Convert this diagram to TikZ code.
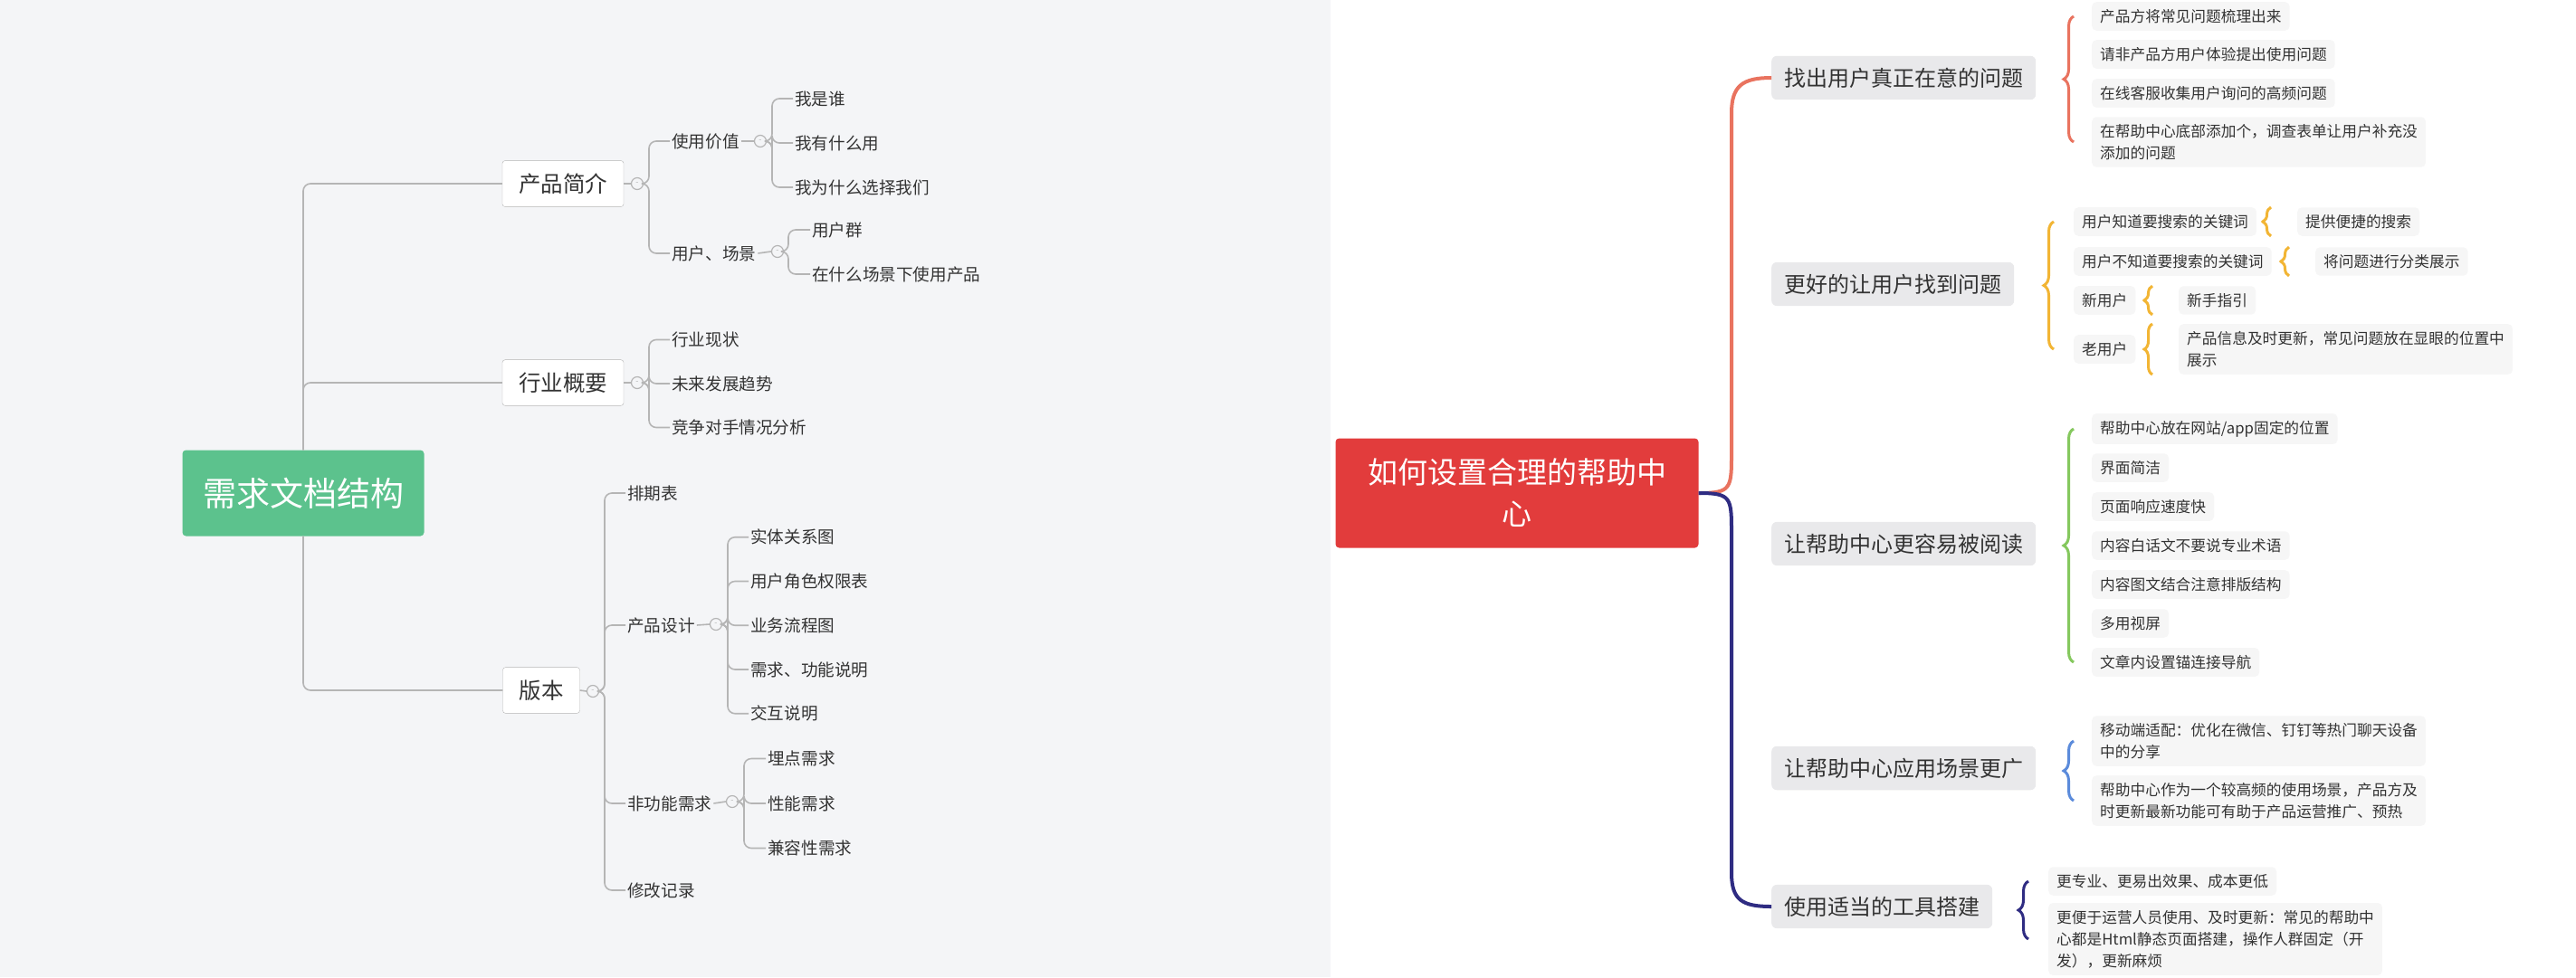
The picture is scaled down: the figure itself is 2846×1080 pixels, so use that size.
\documentclass[tikz,border=0pt]{standalone}
\usepackage{fontspec}
\setmainfont{Noto Sans CJK SC}
\usetikzlibrary{decorations.pathreplacing}
\definecolor{bgleft}{HTML}{F4F5F7}
\definecolor{txt}{HTML}{333333}
\definecolor{lgray}{HTML}{B5B5B5}
\definecolor{rootgreen}{HTML}{5CC28D}
\definecolor{rootred}{HTML}{E23C3C}
\definecolor{csalmon}{HTML}{E9735F}
\definecolor{cyellow}{HTML}{F2B534}
\definecolor{cgreen}{HTML}{85C85E}
\definecolor{cblue}{HTML}{5B8BDB}
\definecolor{cnavy}{HTML}{2F2C82}
\definecolor{brfill}{HTML}{E9E9EB}
\definecolor{lffill}{HTML}{F6F6F6}

\begin{document}
\begin{tikzpicture}[x=1pt,y=-1pt,
        lline/.style={draw=lgray, line width=1.6pt, rounded corners=8pt},
        topbox/.style={draw=lgray, fill=white, rounded corners=3pt, text=txt,
                        font=\fontsize{24.5}{29}\selectfont, inner xsep=18pt, inner ysep=14pt},
        item/.style={anchor=west, text=txt, font=\fontsize{18.6}{22}\selectfont,
                        inner sep=2pt},
        fold/.style={circle, draw=lgray, fill=bgleft, line width=1.2pt,
                        inner sep=0pt, minimum size=13pt, font=\fontsize{9}{9}\selectfont, text=lgray},
        branch/.style={anchor=west, fill=brfill, rounded corners=6pt, text=txt,
                        font=\fontsize{24}{29}\selectfont, inner xsep=14pt, inner ysep=13pt},
        leaf/.style={anchor=west, fill=lffill, rounded corners=5pt, text=txt, align=left,
                        font=\fontsize{16.7}{24}\selectfont, inner xsep=9pt, inner ysep=8pt},
        grp/.style={decorate, decoration={brace, amplitude=11pt}, line width=3pt},
        trunk/.style={line width=4pt}]
    \useasboundingbox (0,0) rectangle (2846,1080);
    \fill[white] (0,0) rectangle (2846,1080);
    \fill[bgleft] (0,0) rectangle (1470,1080);

    % left map
    \node[fill=rootgreen, rounded corners=4pt, text=white, minimum width=267pt,
          minimum height=95pt, font=\fontsize{37}{44}\selectfont] (req) at (335,545) {需求文档结构};
    \node[topbox] (intro) at (622,203) {产品简介};
    \node[topbox] (trade) at (622,423) {行业概要};
    \node[topbox] (ver) at (598,763) {版本};
    \draw[lline] (req.north) |- (intro.west);
    \draw[lline] (req.north) |- (trade.west);
    \draw[lline] (req.south) |- (ver.west);

    \node[fold] (fintro) at (704,203) {-};
    \node[fold] (ftrade) at (704,423) {-};
    \node[fold] (fver) at (655,764) {-};
    \draw[lline] (intro.east) -- (fintro.west);
    \draw[lline] (trade.east) -- (ftrade.west);
    \draw[lline] (ver.east) -- (fver.west);

    \node[item] (use) at (740,156) {使用价值};
    \node[item] (scene) at (740,280) {用户、场景};
    \foreach \n in {use,scene}
        \draw[lline] (fintro.east) -- (717,203) |- (\n.west);

    \node[fold] (fuse) at (840,156) {-};
    \node[fold] (fscene) at (859,278) {-};
    \draw[lline] (use.east) -- (fuse.west);
    \draw[lline] (scene.east) -- (fscene.west);
    \foreach \t [count=\i] in {我是谁,我有什么用,我为什么选择我们} {
        \node[item] (use\i) at (876,{60+\i*49}) {\t};
        \draw[lline] (fuse.east) -- (853,156) |- (use\i.west);
    }
    \foreach \t/\y [count=\i] in {用户群/254,在什么场景下使用产品/303} {
        \node[item] (scene\i) at (895,\y) {\t};
        \draw[lline] (fscene.east) -- (871,278) |- (scene\i.west);
    }
    \foreach \t [count=\i] in {行业现状,未来发展趋势,竞争对手情况分析} {
        \node[item] (trade\i) at (740,{327+\i*48.5}) {\t};
        \draw[lline] (ftrade.east) -- (717,423) |- (trade\i.west);
    }

    \foreach \t/\y/\n in {排期表/545/plan,产品设计/691/design,非功能需求/888/nonfn,修改记录/984/log} {
        \node[item] (\n) at (691,\y) {\t};
        \draw[lline] (fver.east) -- (668,764) |- (\n.west);
    }
    \node[fold] (fdesign) at (791,690) {-};
    \node[fold] (fnonfn) at (809,886) {-};
    \draw[lline] (design.east) -- (fdesign.west);
    \draw[lline] (nonfn.east) -- (fnonfn.west);
    \foreach \t [count=\i] in {实体关系图,用户角色权限表,业务流程图,需求、功能说明,交互说明} {
        \node[item] (design\i) at (827,{545+\i*48.75}) {\t};
        \draw[lline] (fdesign.east) -- (804,690) |- (design\i.west);
    }
    \foreach \t [count=\i] in {埋点需求,性能需求,兼容性需求} {
        \node[item] (nonfn\i) at (846,{789+\i*49.5}) {\t};
        \draw[lline] (fnonfn.east) -- (822,886) |- (nonfn\i.west);
    }

    % right map
    \node[fill=rootred, rounded corners=4pt, text=white, minimum width=401pt,
          minimum height=121pt, align=center, font=\fontsize{33}{46}\selectfont]
          (help) at (1676,545) {如何设置合理的帮助中\\心};
    \node[branch] (find) at (1957,86) {找出用户真正在意的问题};
    \node[branch] (better) at (1957,314) {更好的让用户找到问题};
    \node[branch] (read) at (1957,601) {让帮助中心更容易被阅读};
    \node[branch] (wide) at (1957,849) {让帮助中心应用场景更广};
    \node[branch] (tool) at (1957,1002) {使用适当的工具搭建};
    \draw[trunk, csalmon] (help.east) .. controls (1913,545) and (1913,540) .. (1913,500)
        -- (1913,125) .. controls (1913,95) and (1925,86) .. (find.west);
    \draw[trunk, cnavy] (help.east) .. controls (1913,545) and (1913,550) .. (1913,590)
        -- (1913,965) .. controls (1913,995) and (1925,1002) .. (tool.west);

    % find
    \node[leaf] (find1) at (2311,18) {产品方将常见问题梳理出来};
    \node[leaf] (find2) at (2311,60) {请非产品方用户体验提出使用问题};
    \node[leaf] (find3) at (2311,103) {在线客服收集用户询问的高频问题};
    \node[leaf] (find4) at (2311,157) {在帮助中心底部添加个，调查表单让用户补充没\\添加的问题};
    \draw[grp, csalmon] ([xshift=-20pt]find4.west) -- ([xshift=-20pt]find1.west);

    % better
    \node[leaf] (know) at (2291,245) {用户知道要搜索的关键词};
    \node[leaf] (unknow) at (2291,289) {用户不知道要搜索的关键词};
    \node[leaf] (newu) at (2291,332) {新用户};
    \node[leaf] (oldu) at (2291,386) {老用户};
    \draw[grp, cyellow] ([xshift=-22pt]oldu.west) -- ([xshift=-22pt]know.west);
    \node[leaf] (know1) at (2538,245) {提供便捷的搜索};
    \node[leaf] (unknow1) at (2558,289) {将问题进行分类展示};
    \node[leaf] (newu1) at (2407,332) {新手指引};
    \node[leaf] (oldu1) at (2407,386) {产品信息及时更新，常见问题放在显眼的位置中\\展示};
    \foreach \n in {know1,unknow1,newu1,oldu1}
        \draw[grp, cyellow, decoration={amplitude=9pt}]
            ([xshift=-29pt]\n.south west) -- ([xshift=-29pt]\n.north west);

    % read
    \foreach \t [count=\i] in {帮助中心放在网站/app固定的位置,界面简洁,页面响应速度快,
            内容白话文不要说专业术语,内容图文结合注意排版结构,多用视屏,文章内设置锚连接导航}
        \node[leaf] (read\i) at (2311,{431+\i*43}) {\t};
    \draw[grp, cgreen] ([xshift=-20pt]read7.west) -- ([xshift=-20pt]read1.west);

    % wide
    \node[leaf] (wide1) at (2311,819) {移动端适配：优化在微信、钉钉等热门聊天设备\\中的分享};
    \node[leaf] (wide2) at (2311,885) {帮助中心作为一个较高频的使用场景，产品方及\\时更新最新功能可有助于产品运营推广、预热};
    \draw[grp, cblue] ([xshift=-20pt]wide2.west) -- ([xshift=-20pt]wide1.west);

    % tool
    \node[leaf] (tool1) at (2263,974) {更专业、更易出效果、成本更低};
    \node[leaf] (tool2) at (2263,1038) {更便于运营人员使用、及时更新：常见的帮助中\\心都是Html静态页面搭建，操作人群固定（开\\发），更新麻烦};
    \draw[grp, cnavy] ([xshift=-22pt]tool2.west) -- ([xshift=-22pt]tool1.west);
\end{tikzpicture}
\end{document}
